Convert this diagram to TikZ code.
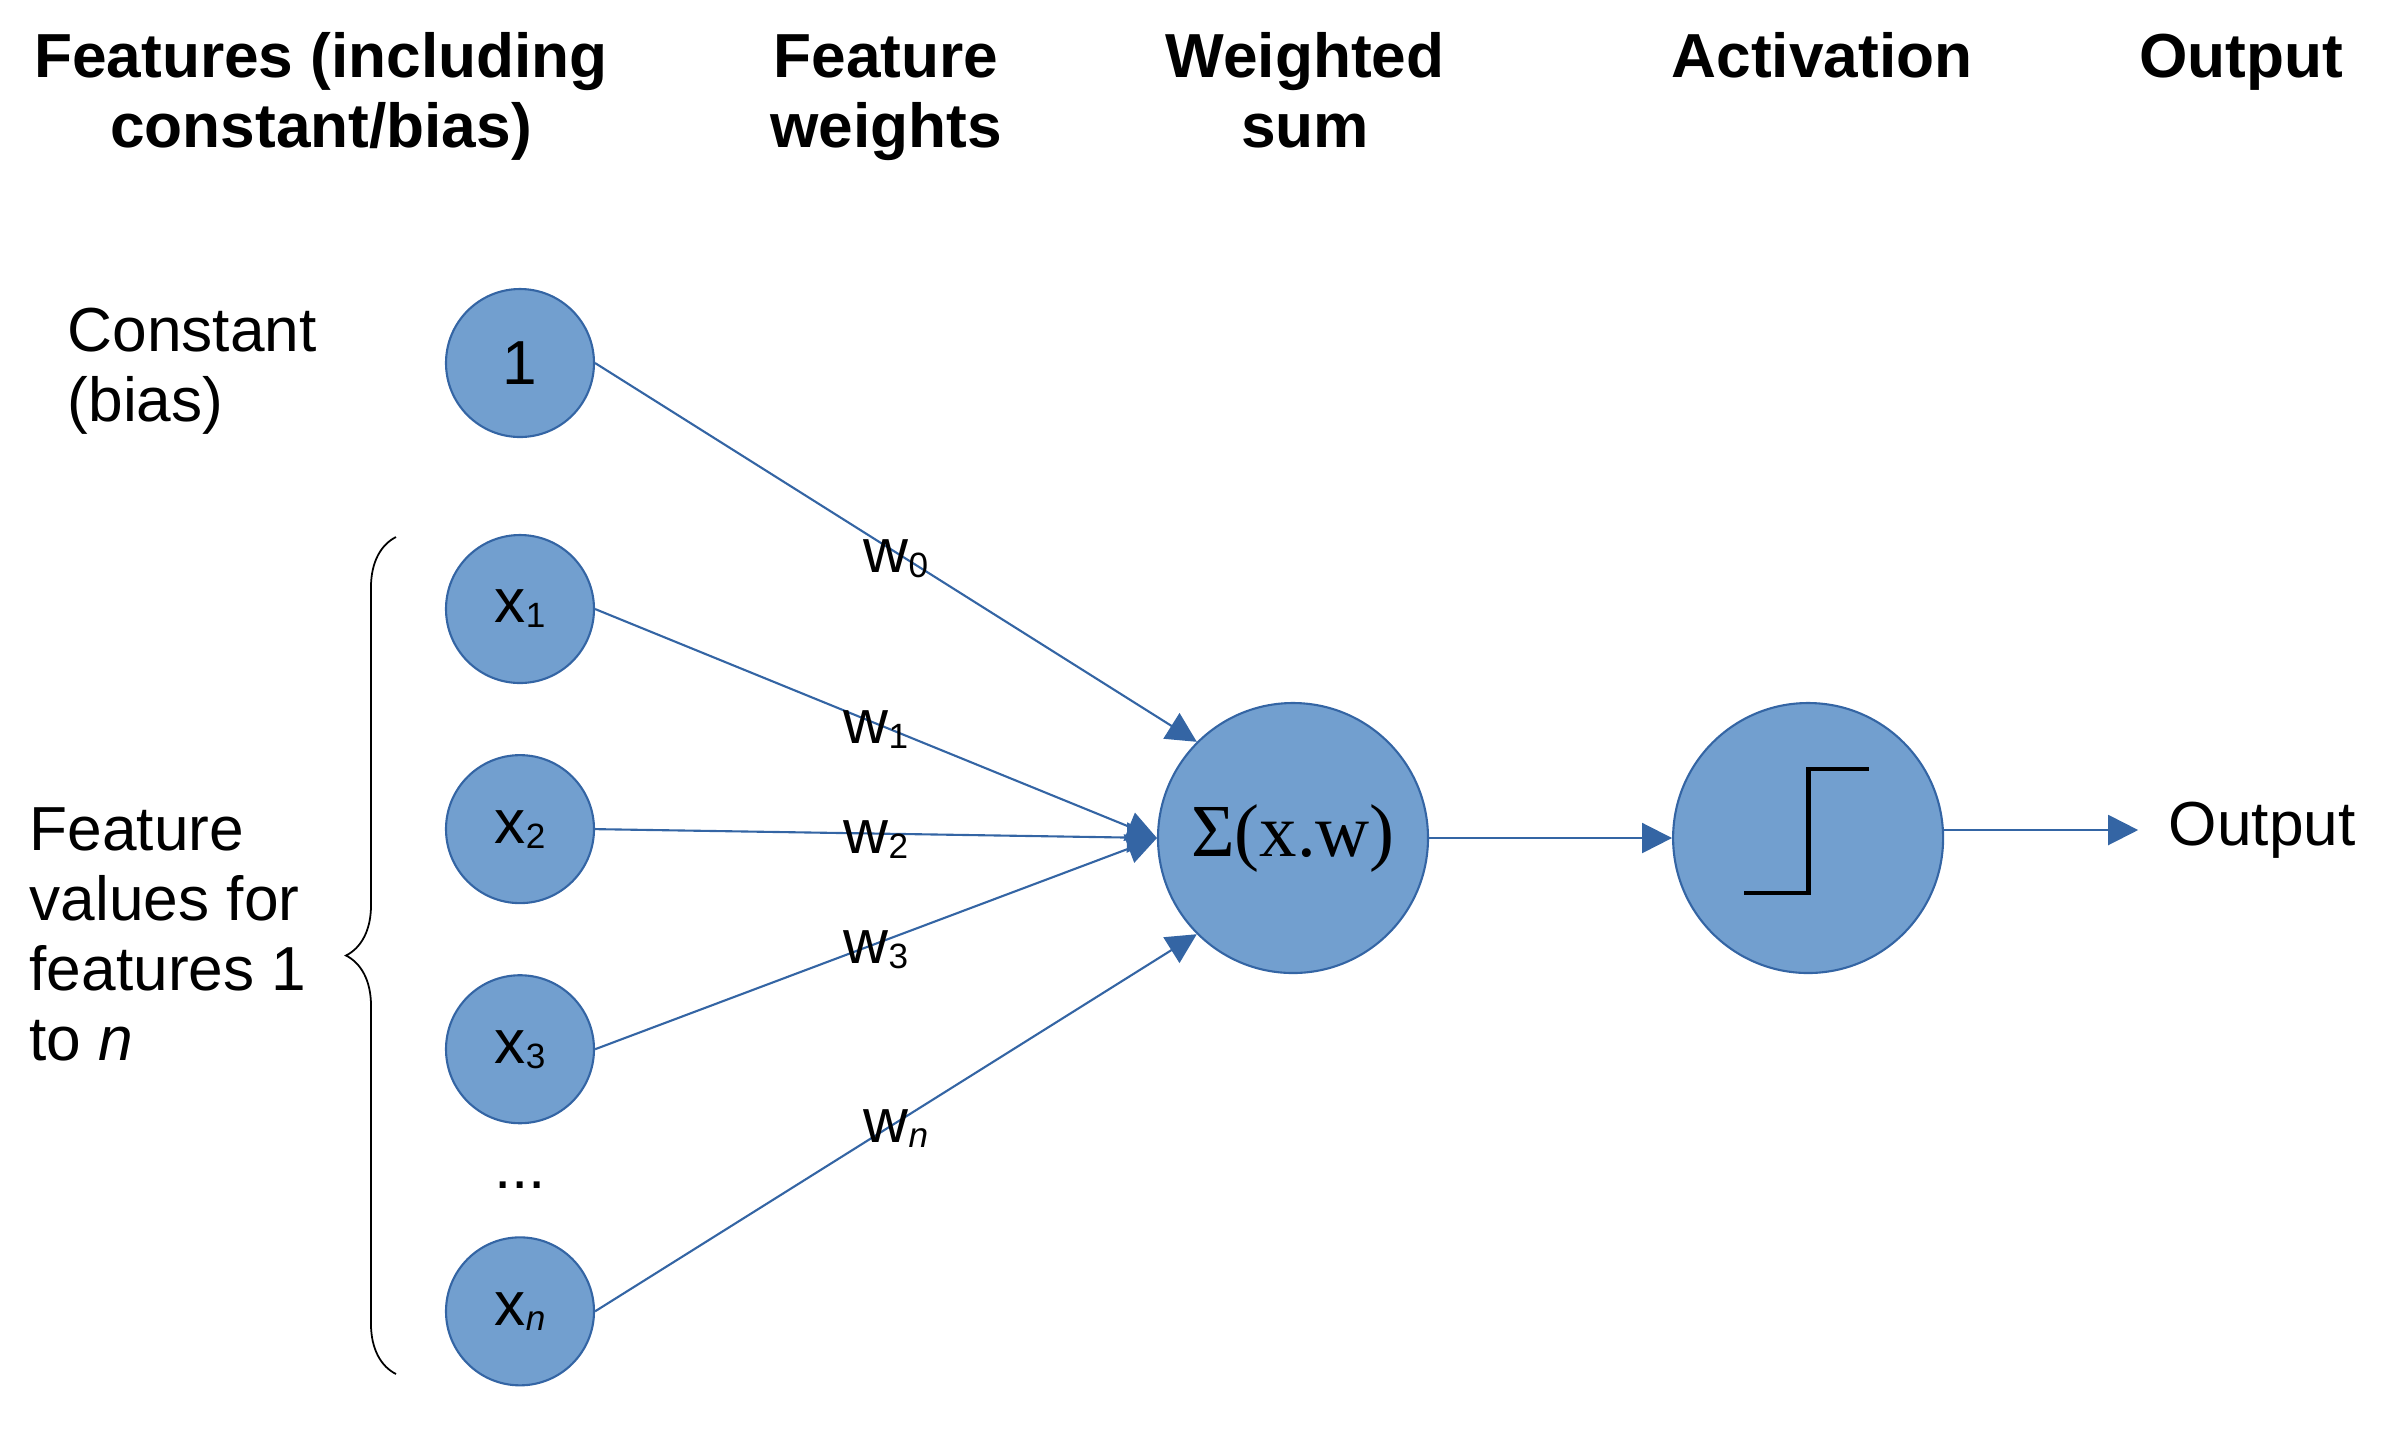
\documentclass[tikz,border=0pt]{standalone}
\usepackage{fontspec}
\setmainfont{Liberation Sans}
\newfontfamily\serifsum{Liberation Serif}
\usetikzlibrary{positioning, arrows.meta, decorations.pathreplacing}

\definecolor{unitfill}{HTML}{729FCF}
\definecolor{unitline}{HTML}{3465A4}

\newcommand{\lowidx}[1]{\raisebox{-0.05cm}{\fontsize{10}{10}\selectfont #1}}

\tikzset{
  unit/.style={circle, draw=unitline, fill=unitfill, line width=0.6pt, minimum size=1.48cm, inner sep=0pt},
  bigunit/.style={unit, minimum size=2.70cm},
  link/.style={draw=unitline, line width=0.6pt, -{Triangle[length=0.3cm, width=0.3cm]}},
  weight/.style={yshift=-0.06cm},
  header/.style={font=\fontsize{17.7}{19.9}\selectfont\bfseries, align=center, inner sep=0pt, anchor=base},
  caption/.style={align=left, inner sep=0pt, anchor=base west},
}

\begin{document}
\begin{tikzpicture}[font=\fontsize{17.7}{19.9}\selectfont, node distance=0.70cm]
    \useasboundingbox (0,0) rectangle (24.01,-14.39);

    % column titles (base = last line)
    \node[header] (hfeat) at (3.21,-1.47) {Features (including\\constant/bias)};
    \node[header] (hwts) at (8.86,-1.47) {Feature\\weights};
    \node[header] (hsum) at (13.05,-1.47) {Weighted\\sum};
    \node[header] (hact) at (18.22,-0.77) {Activation};
    \node[header] (hout) at (22.41,-0.77) {Output};

    % inputs
    \node[unit] (bias) at (5.20,-3.63) {1};
    \node[unit] (x1) at (5.20,-6.09) {x\lowidx{1}};
    \node[unit, below=of x1] (x2) {x\lowidx{2}};
    \node[unit, below=of x2] (x3) {x\lowidx{3}};
    \node[unit, below=1.12cm of x3] (xn) {x\lowidx{\itshape n}};
    \node[inner sep=0pt] (dots) at (5.20,-11.85) {...};

    % left captions
    \node[caption] (biastxt) at (0.67,-4.21) {Constant\\(bias)};
    \node[caption] (feattxt) at (0.29,-10.60) {Feature\\values for\\features 1\\to \textit{n}};

    \coordinate (braceb) at (3.96,-13.74);
    \coordinate (bracet) at (3.96,-5.37);
    \draw[decorate, decoration={brace, amplitude=0.5cm}, line width=0.5pt] (braceb) -- (bracet);

    % sum and activation
    \node[bigunit, font=\fontsize{21.3}{24}\serifsum] (sum) at (12.93,-8.38) {Σ(x.w)};
    \node[bigunit, right=2.43cm of sum] (act) {};
    \draw[line width=1.4pt] ([shift={(-0.64,-0.55)}]act.center) -| ([shift={(0,0.69)}]act.center) -- ++(0.61,0);
    \node[right=1.94cm of act, inner xsep=0.3cm, inner ysep=0pt, yshift=0.08cm] (out) {Output};

    \draw[link] (bias.east) -- node[weight] {w\lowidx{0}} (sum.135);
    \draw[link] (x1.east) -- node[weight] {w\lowidx{1}} (sum.west);
    \draw[link] (x2.east) -- node[weight] {w\lowidx{2}} (sum.west);
    \draw[link] (x3.east) -- node[weight] {w\lowidx{3}} (sum.west);
    \draw[link] (xn.east) -- node[weight] {w\lowidx{\itshape n}} (sum.225);
    \draw[link] (sum) -- (act);
    \draw[link] (act.east |- out) -- (out);
\end{tikzpicture}
\end{document}
